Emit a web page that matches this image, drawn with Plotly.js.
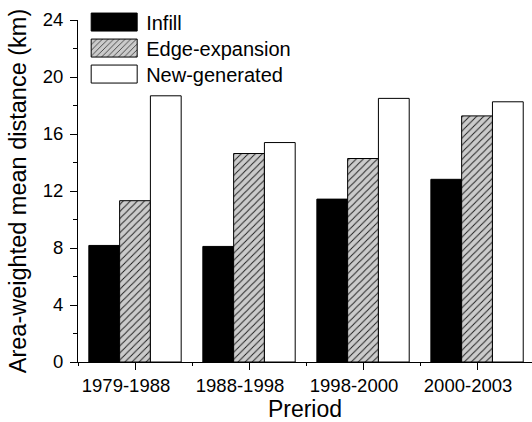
<!DOCTYPE html>
<html>
<head>
<meta charset="utf-8">
<script src="https://cdn.plot.ly/plotly-3.0.1.min.js"></script>
<style>
  html, body { margin: 0; padding: 0; background: #fff; }
  #chart { width: 532px; height: 422px; }
</style>
</head>
<body>
<div id="chart"></div>
<script>
// ---- Data ----
const categories = ["1979-1988", "1988-1998", "1998-2000", "2000-2003"];
const infill = [8.18, 8.11, 11.43, 12.82];
const edgeExpansion = [11.32, 14.63, 14.28, 17.27];
const newGenerated = [18.68, 15.40, 18.50, 18.26];
const seriesNames = ["Infill", "Edge-expansion", "New-generated"];
const yTickVals = [0, 4, 8, 12, 16, 20, 24];

const xIdx = categories.map((c, i) => i);
const FONT = "Liberation Sans, Arial, Helvetica, sans-serif";

const traces = [
  {
    type: "bar", name: seriesNames[0], x: xIdx, y: infill,
    marker: { color: "#000000", line: { color: "#000000", width: 1 } }
  },
  {
    type: "bar", name: seriesNames[1], x: xIdx, y: edgeExpansion,
    marker: {
      color: "#1a1a1a",
      line: { color: "#000000", width: 1 },
      pattern: { shape: "/", bgcolor: "#cbcbcb", fgcolor: "#1a1a1a", size: 5, solidity: 0.18 }
    }
  },
  {
    type: "bar", name: seriesNames[2], x: xIdx, y: newGenerated,
    marker: { color: "#ffffff", line: { color: "#000000", width: 1 } }
  }
];

const layout = {
  width: 532, height: 422,
  margin: { l: 78, r: 0, t: 20, b: 60, pad: 0 },
  paper_bgcolor: "#ffffff", plot_bgcolor: "#ffffff",
  font: { family: FONT, size: 18, color: "#000000" },
  barmode: "group", bargap: 0.19, bargroupgap: 0,
  showlegend: true,
  legend: {
    x: 0.018, y: 1.051, xanchor: "left", yanchor: "top",
    bgcolor: "rgba(0,0,0,0)", borderwidth: 0,
    font: { family: FONT, size: 20, color: "#000" },
    itemwidth: 50, traceorder: "normal", itemclick: false
  },
  xaxis: {
    range: [-0.5, 3.482],
    tickmode: "array", tickvals: xIdx, ticktext: categories,
    ticks: "outside", ticklen: 7, tickwidth: 1, tickcolor: "#000",
    ticklabelshift: -9,
    minor: { ticks: "outside", ticklen: 3, tickwidth: 1, tickcolor: "#000", tick0: 0.5, dtick: 1, showgrid: false },
    showline: true, linecolor: "#000", linewidth: 1,
    showgrid: false, zeroline: false,
    tickfont: { family: FONT, size: 18.5 },
    title: { text: "Preriod", font: { family: FONT, size: 23 }, standoff: 11 }
  },
  yaxis: {
    range: [0, 24],
    tickmode: "array", tickvals: yTickVals,
    ticks: "outside", ticklen: 7, tickwidth: 1, tickcolor: "#000",
    ticklabelstandoff: 3,
    minor: { ticks: "outside", ticklen: 4, tickwidth: 1, tickcolor: "#000", tick0: 2, dtick: 4, showgrid: false },
    showline: true, linecolor: "#000", linewidth: 1,
    showgrid: false, zeroline: false,
    tickfont: { family: FONT, size: 18.5 },
    title: { text: "Area-weighted mean distance (km)", font: { family: FONT, size: 23.5 }, standoff: 9 }
  }
};

Plotly.newPlot("chart", traces, layout, { staticPlot: true, displayModeBar: false }).then(function (gd) {
  const items = Array.from(gd.querySelectorAll(".legend .traces"));
  // tighten vertical spacing of the legend rows to match the reference
  let y0 = null;
  items.forEach(function (tr, i) {
    const t = tr.getAttribute("transform") || "";
    const m = t.match(/translate\(\s*([-\d.]+)[ ,]+([-\d.]+)\s*\)/);
    if (!m) return;
    const tx = parseFloat(m[1]), ty = parseFloat(m[2]);
    if (y0 === null) y0 = ty;
    tr.setAttribute("transform", "translate(" + tx + "," + (y0 + i * 26) + ")");
  });
  // enlarge the legend swatches to wide rectangles like the reference
  items.forEach(function (tr) {
    const path = tr.querySelector(".legendpoints path");
    const text = tr.querySelector("text.legendtext");
    if (!path || !text) return;
    const tb = text.getBoundingClientRect();
    const pb = path.getBoundingClientRect();
    const ctm = path.getScreenCTM();
    const cy = (pb.top + pb.bottom) / 2;
    const right = tb.left - 9, left = right - 46;
    const top = cy - 9, bottom = cy + 9;
    const lx = left - ctm.e, rx = right - ctm.e, ty = top - ctm.f, by = bottom - ctm.f;
    path.setAttribute("d", "M" + rx + "," + by + "H" + lx + "V" + ty + "H" + rx + "Z");
  });
});
</script>
</body>
</html>
